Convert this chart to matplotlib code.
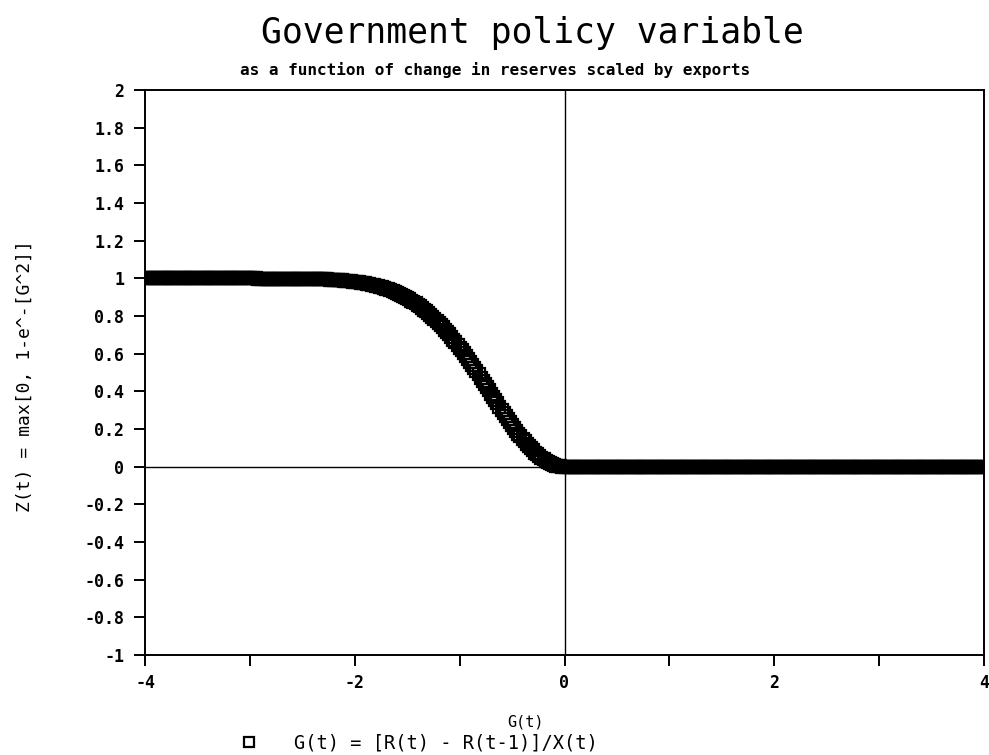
import numpy as np
import matplotlib
matplotlib.use("Agg")
import matplotlib.pyplot as plt
from matplotlib.ticker import MultipleLocator

# ---- data (G step 0.02) ----
G_left = np.round(np.arange(-4.00, -2.41, 0.02), 2)   # flat part at Z ~ 1
Z_left = [1.00, 1.00, 1.00, 1.00, 1.00, 1.00, 1.00, 1.00, 1.00, 1.00,
          1.00, 1.00, 1.00, 1.00, 1.00, 1.00, 1.00, 1.00, 1.00, 1.00,
          1.00, 1.00, 1.00, 1.00, 1.00, 1.00, 1.00, 1.00, 1.00, 1.00,
          1.00, 1.00, 1.00, 1.00, 1.00, 1.00, 1.00, 1.00, 1.00, 1.00,
          1.00, 1.00, 1.00, 1.00, 1.00, 1.00, 1.00, 1.00, 1.00, 1.00,
          1.00, 1.00, 1.00, 1.00, 0.999, 0.999, 0.999, 0.999, 0.999, 0.999,
          0.999, 0.999, 0.999, 0.999, 0.999, 0.999, 0.998, 0.998, 0.998, 0.998,
          0.998, 0.998, 0.998, 0.998, 0.998, 0.998, 0.997, 0.997, 0.997, 0.997]

G_mid = np.round(np.arange(-2.40, 0.001, 0.02), 2)    # transition part
Z_mid = [0.997, 0.997, 0.996, 0.996, 0.995, 0.995, 0.994, 0.994, 0.993, 0.993,
         0.992, 0.991, 0.991, 0.990, 0.989, 0.988, 0.987, 0.986, 0.984, 0.983,
         0.982, 0.980, 0.979, 0.977, 0.975, 0.973, 0.971, 0.969, 0.966, 0.964,
         0.961, 0.958, 0.955, 0.952, 0.948, 0.944, 0.941, 0.936, 0.932, 0.928,
         0.923, 0.918, 0.912, 0.907, 0.901, 0.895, 0.888, 0.881, 0.874, 0.867,
         0.859, 0.851, 0.843, 0.834, 0.825, 0.815, 0.806, 0.796, 0.785, 0.774,
         0.763, 0.752, 0.740, 0.727, 0.715, 0.702, 0.689, 0.675, 0.661, 0.647,
         0.632, 0.617, 0.602, 0.587, 0.571, 0.555, 0.539, 0.523, 0.506, 0.490,
         0.473, 0.456, 0.439, 0.422, 0.405, 0.387, 0.370, 0.353, 0.336, 0.319,
         0.302, 0.286, 0.269, 0.253, 0.237, 0.221, 0.206, 0.191, 0.176, 0.162,
         0.148, 0.134, 0.122, 0.109, 0.097, 0.086, 0.075, 0.065, 0.056, 0.047,
         0.039, 0.032, 0.025, 0.019, 0.014, 0.010, 0.006, 0.004, 0.002, 0.000,
         0.000]

G_right = np.round(np.arange(0.02, 4.001, 0.02), 2)   # flat part at Z = 0
Z_right = [0.0, 0.0, 0.0, 0.0, 0.0, 0.0, 0.0, 0.0, 0.0, 0.0,
           0.0, 0.0, 0.0, 0.0, 0.0, 0.0, 0.0, 0.0, 0.0, 0.0,
           0.0, 0.0, 0.0, 0.0, 0.0, 0.0, 0.0, 0.0, 0.0, 0.0,
           0.0, 0.0, 0.0, 0.0, 0.0, 0.0, 0.0, 0.0, 0.0, 0.0,
           0.0, 0.0, 0.0, 0.0, 0.0, 0.0, 0.0, 0.0, 0.0, 0.0,
           0.0, 0.0, 0.0, 0.0, 0.0, 0.0, 0.0, 0.0, 0.0, 0.0,
           0.0, 0.0, 0.0, 0.0, 0.0, 0.0, 0.0, 0.0, 0.0, 0.0,
           0.0, 0.0, 0.0, 0.0, 0.0, 0.0, 0.0, 0.0, 0.0, 0.0,
           0.0, 0.0, 0.0, 0.0, 0.0, 0.0, 0.0, 0.0, 0.0, 0.0,
           0.0, 0.0, 0.0, 0.0, 0.0, 0.0, 0.0, 0.0, 0.0, 0.0,
           0.0, 0.0, 0.0, 0.0, 0.0, 0.0, 0.0, 0.0, 0.0, 0.0,
           0.0, 0.0, 0.0, 0.0, 0.0, 0.0, 0.0, 0.0, 0.0, 0.0,
           0.0, 0.0, 0.0, 0.0, 0.0, 0.0, 0.0, 0.0, 0.0, 0.0,
           0.0, 0.0, 0.0, 0.0, 0.0, 0.0, 0.0, 0.0, 0.0, 0.0,
           0.0, 0.0, 0.0, 0.0, 0.0, 0.0, 0.0, 0.0, 0.0, 0.0,
           0.0, 0.0, 0.0, 0.0, 0.0, 0.0, 0.0, 0.0, 0.0, 0.0,
           0.0, 0.0, 0.0, 0.0, 0.0, 0.0, 0.0, 0.0, 0.0, 0.0,
           0.0, 0.0, 0.0, 0.0, 0.0, 0.0, 0.0, 0.0, 0.0, 0.0,
           0.0, 0.0, 0.0, 0.0, 0.0, 0.0, 0.0, 0.0, 0.0, 0.0,
           0.0, 0.0, 0.0, 0.0, 0.0, 0.0, 0.0, 0.0, 0.0, 0.0]

G = np.concatenate([G_left, G_mid, G_right])
Z = np.concatenate([Z_left, Z_mid, Z_right])

x_major = [-4, -2, 0, 2, 4]
x_labels = ["-4", "-2", "0", "2", "4"]
y_ticks = [-1, -0.8, -0.6, -0.4, -0.2, 0, 0.2, 0.4, 0.6, 0.8, 1, 1.2, 1.4, 1.6, 1.8, 2]
y_labels = ["-1", "-0.8", "-0.6", "-0.4", "-0.2", "0", "0.2", "0.4", "0.6", "0.8",
            "1", "1.2", "1.4", "1.6", "1.8", "2"]

title = "Government policy variable"
subtitle = "as a function of change in reserves scaled by exports"
xlabel = "G(t)"
ylabel = "Z(t) = max[0, 1-e^-[G^2]]"
series_label = "G(t) = [R(t) - R(t-1)]/X(t)"

MONO = "DejaVu Sans Mono"
W, H = 989, 755
fig = plt.figure(figsize=(W / 100, H / 100), dpi=100)
ax = fig.add_axes([145 / W, 1 - 655 / H, (984 - 145) / W, (655 - 90) / H])

line, = ax.plot(G, Z, linestyle="none", marker="s", markersize=9.2,
                markerfacecolor="none", markeredgecolor="black",
                markeredgewidth=1.6, label=series_label)

ax.axhline(0, color="black", linewidth=1.0, zorder=1)
ax.axvline(0, color="black", linewidth=1.0, zorder=1)

ax.set_xlim(-4, 4)
ax.set_ylim(-1, 2)
ax.set_xticks(x_major)
ax.set_xticklabels(x_labels)
ax.xaxis.set_minor_locator(MultipleLocator(1))
ax.set_yticks(y_ticks)
ax.set_yticklabels(y_labels)

for s in ax.spines.values():
    s.set_linewidth(1.4)
ax.tick_params(axis="both", which="both", direction="out", width=1.4,
               labelsize=12, colors="black")
ax.tick_params(axis="y", length=8, pad=7)
ax.tick_params(axis="x", which="both", length=8, pad=6)
for lab in ax.get_xticklabels() + ax.get_yticklabels():
    lab.set_fontfamily(MONO)
    lab.set_fontweight("bold")

fig.text(532 / W, 1 - 33 / H, title, family=MONO, fontsize=25,
         ha="center", va="center")
fig.text(495 / W, 1 - 70 / H, subtitle, family=MONO, fontsize=11.5,
         fontweight="bold", ha="center", va="center")
fig.text(25 / W, 1 - 376 / H, ylabel, family=MONO, fontsize=13,
         rotation=90, ha="center", va="center")
fig.text(525 / W, 1 - 722 / H, xlabel, family=MONO, fontsize=11,
         ha="center", va="center")

fig.legend(handles=[line], loc="center left",
           bbox_to_anchor=(241 / W, 1 - 743 / H), frameon=False,
           prop={"family": MONO, "size": 13.5}, handlelength=0.8,
           handletextpad=2.0, borderpad=0, borderaxespad=0, markerscale=0.85)

fig.savefig("out.png", dpi=100)
